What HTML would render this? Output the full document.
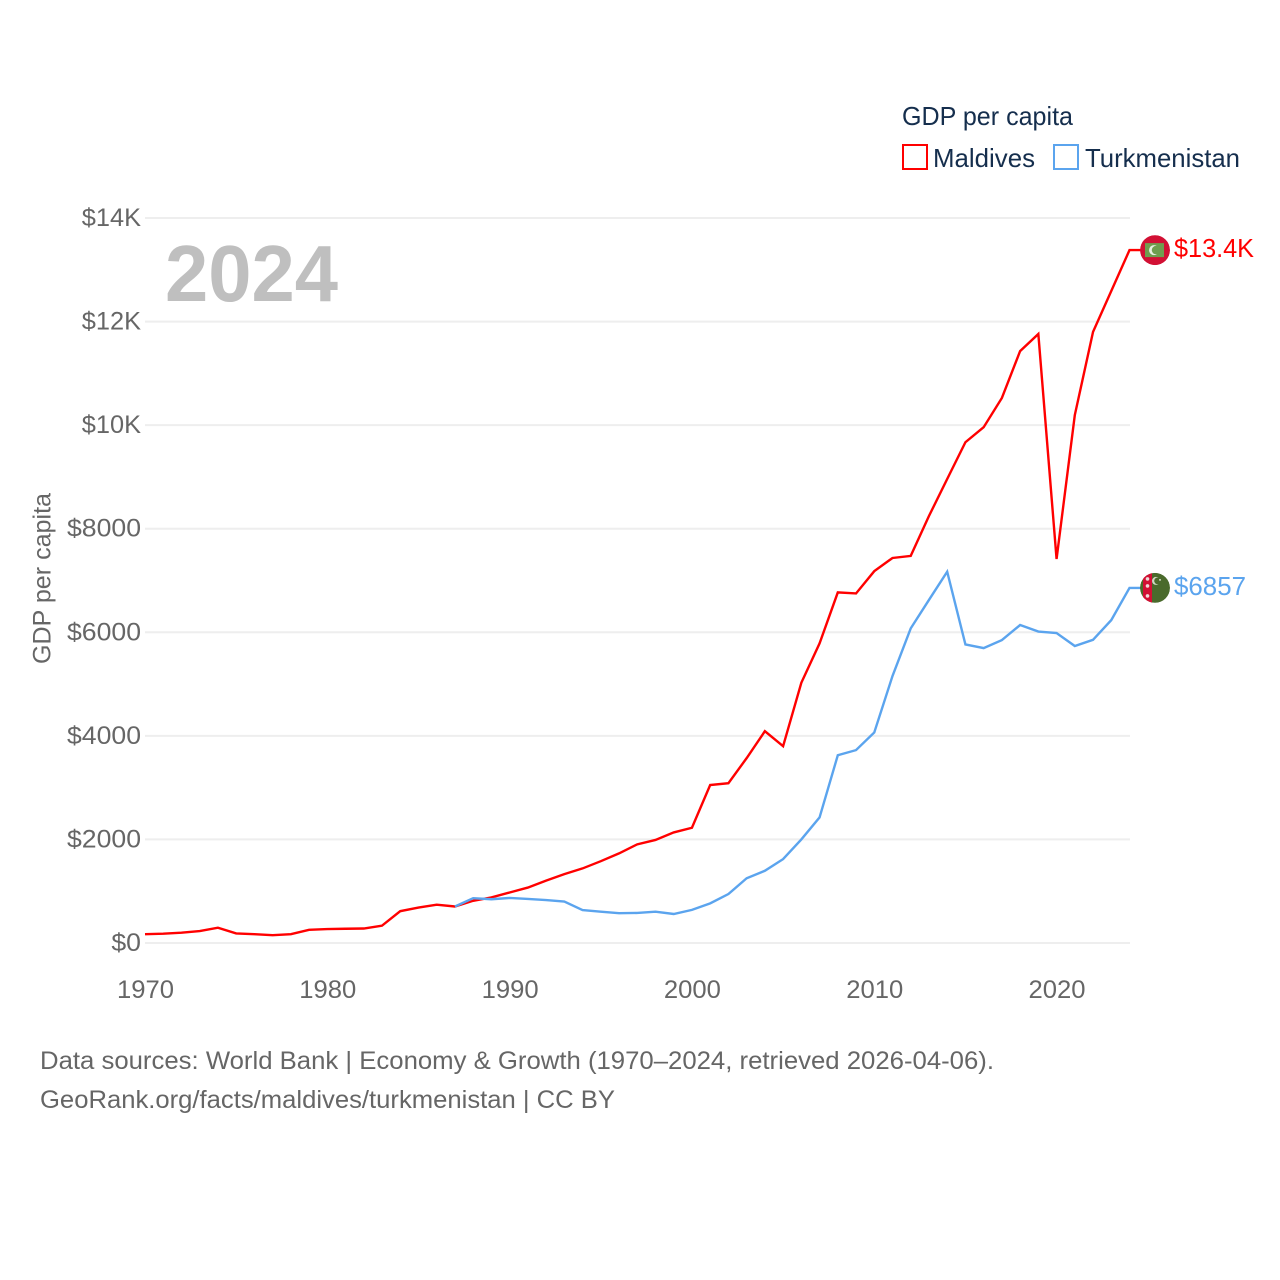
<!DOCTYPE html>
<html lang="en">
<head>
<meta charset="utf-8">
<title>GDP per capita: Maldives and Turkmenistan</title>
<style>
html,body{margin:0;padding:0;background:#fff;width:1280px;height:1280px;overflow:hidden}
svg{display:block;font-family:"Liberation Sans",Arial,sans-serif}
</style>
</head>
<body>
<svg id="chart" width="1280" height="1280" viewBox="0 0 1280 1280" xmlns="http://www.w3.org/2000/svg">
  <defs>
    <clipPath id="flag-clip"><circle cx="0" cy="0" r="15"/></clipPath>
  </defs>
  <g id="grid"></g>
  <g id="y-axis"></g>
  <g id="x-axis"></g>
  <text x="165" y="301" font-size="80" font-weight="700" fill="#bfbfbf" textLength="173" lengthAdjust="spacingAndGlyphs">2024</text>
  <g id="series"></g>

  <g id="flag-maldives" clip-path="url(#flag-clip)">
    <circle r="15" fill="#d21034"/>
    <rect x="-10" y="-7" width="19" height="14" fill="#6f9e4f"/>
    <circle cx="-1" cy="0" r="5" fill="#e6efe0"/>
    <circle cx="1" cy="0" r="4.2" fill="#6f9e4f"/>
  </g>
  <g id="flag-turkmenistan" clip-path="url(#flag-clip)">
    <circle r="15" fill="#4a6a2c"/>
    <rect x="-12" y="-15" width="9" height="30" fill="#d21034"/>
    <circle cx="-7.5" cy="-9" r="1.8" fill="#f0d8d8"/>
    <circle cx="-7.5" cy="-2" r="1.8" fill="#f0d8d8"/>
    <circle cx="-7.5" cy="8" r="1.8" fill="#f0d8d8"/>
    <circle cx="1" cy="-7" r="4" fill="#cfd8c4"/>
    <circle cx="2.6" cy="-7" r="3.4" fill="#4a6a2c"/>
    <circle cx="5" cy="-8" r="1" fill="#cfd8c4"/>
  </g>
  <text id="value-maldives" x="1174" font-size="26" fill="#ff0000" textLength="80" lengthAdjust="spacingAndGlyphs"></text>
  <text id="value-turkmenistan" x="1174" font-size="26" fill="#5ba4ee" textLength="72" lengthAdjust="spacingAndGlyphs"></text>

  <text transform="translate(50.5 578.5) rotate(-90)" text-anchor="middle" font-size="25" fill="#666666" textLength="171" lengthAdjust="spacingAndGlyphs">GDP per capita</text>

  <g>
    <text x="902" y="125" font-size="26" fill="#152e4d" textLength="171" lengthAdjust="spacingAndGlyphs">GDP per capita</text>
    <g>
      <rect x="903" y="145" width="24" height="24" fill="none" stroke="#ff0000" stroke-width="2"/>
      <text x="933" y="167" font-size="26" fill="#152e4d" textLength="102" lengthAdjust="spacingAndGlyphs">Maldives</text>
    </g>
    <g>
      <rect x="1054" y="145" width="24" height="24" fill="none" stroke="#5ba4ee" stroke-width="2"/>
      <text x="1085" y="167" font-size="26" fill="#152e4d" textLength="155" lengthAdjust="spacingAndGlyphs">Turkmenistan</text>
    </g>
  </g>

  <g>
    <text x="40" y="1069" font-size="25" fill="#666666" textLength="954" lengthAdjust="spacingAndGlyphs">Data sources: World Bank | Economy &amp; Growth (1970–2024, retrieved 2026-04-06).</text>
    <text x="40" y="1108" font-size="25" fill="#666666" textLength="575" lengthAdjust="spacingAndGlyphs">GeoRank.org/facts/maldives/turkmenistan | CC BY</text>
  </g>
</svg>
<script>
const years = [1970,1971,1972,1973,1974,1975,1976,1977,1978,1979,1980,1981,1982,1983,1984,1985,1986,1987,1988,1989,1990,1991,1992,1993,1994,1995,1996,1997,1998,1999,2000,2001,2002,2003,2004,2005,2006,2007,2008,2009,2010,2011,2012,2013,2014,2015,2016,2017,2018,2019,2020,2021,2022,2023,2024];
const maldivesValues = [170,180,200,230,295,185,170,150,170,255,270,275,280,335,615,685,740,705,815,880,975,1070,1205,1330,1440,1580,1730,1905,1990,2135,2225,3050,3085,3570,4090,3800,5025,5785,6770,6750,7180,7435,7475,8245,8960,9670,9960,10525,11430,11760,7415,10195,11800,12590,13380];
const turkmenistanYears = [1987,1988,1989,1990,1991,1992,1993,1994,1995,1996,1997,1998,1999,2000,2001,2002,2003,2004,2005,2006,2007,2008,2009,2010,2011,2012,2013,2014,2015,2016,2017,2018,2019,2020,2021,2022,2023,2024];
const turkmenistanValues = [705,865,845,870,850,830,800,635,605,575,580,605,560,640,765,945,1250,1395,1620,2000,2425,3625,3725,4065,5155,6075,6625,7170,5765,5695,5850,6140,6015,5985,5735,5855,6235,6857];
const yTicks = [0,2000,4000,6000,8000,10000,12000,14000];
const yTickLabels = ["$0","$2000","$4000","$6000","$8000","$10K","$12K","$14K"];
const xTicks = [1970,1980,1990,2000,2010,2020];

const SVG_NS = "http://www.w3.org/2000/svg";
const plot = {left:145, right:1129.5, top:218, bottom:943};
const xDomain = [1970,2024];
const yDomain = [0,14000];
function xScale(v){ return plot.left + (v-xDomain[0])/(xDomain[1]-xDomain[0])*(plot.right-plot.left); }
function yScale(v){ return plot.bottom - (v-yDomain[0])/(yDomain[1]-yDomain[0])*(plot.bottom-plot.top); }
function make(tag,parent,attrs){
  const el = document.createElementNS(SVG_NS,tag);
  for(const k in attrs){ el.setAttribute(k,attrs[k]); }
  parent.appendChild(el);
  return el;
}
function formatValue(v){
  return v >= 10000 ? "$" + (v/1000).toFixed(1) + "K" : "$" + Math.round(v);
}

const gridG = document.getElementById("grid");
const yAxisG = document.getElementById("y-axis");
const xAxisG = document.getElementById("x-axis");
const seriesG = document.getElementById("series");

yTicks.forEach(function(t,i){
  const y = yScale(t);
  const line = make("line",gridG,{x1:plot.left,x2:plot.right+0.5,y1:y,y2:y,stroke:"#eeeeee","stroke-width":2});
  
  
  const label = yTickLabels[i];
  const txt = make("text",yAxisG,{x:141,y:y+8,"text-anchor":"end","font-size":25,fill:"#666666",textLength:label.length*14.8,lengthAdjust:"spacingAndGlyphs"});
  txt.textContent = label;
  
  
});

xTicks.forEach(function(t){
  const txt = make("text",xAxisG,{x:xScale(t)+0.5,y:998,"text-anchor":"middle","font-size":25,fill:"#666666",textLength:57,lengthAdjust:"spacingAndGlyphs"});
  txt.textContent = String(t);
  
  
});

function drawSeries(xs,vals,color){
  let d = "";
  xs.forEach(function(x,i){
    d += (i ? "L" : "M") + xScale(x).toFixed(2) + " " + yScale(vals[i]).toFixed(2);
  });
  const lastY = yScale(vals[vals.length-1]);
  d += "L" + (xScale(xs[xs.length-1])+25) + " " + lastY.toFixed(2);
  return make("path",seriesG,{d:d,fill:"none",stroke:color,"stroke-width":2.4,"stroke-linejoin":"miter","stroke-miterlimit":4});
}

const maldivesLine = drawSeries(years,maldivesValues,"#ff0000");


const turkmenistanLine = drawSeries(turkmenistanYears,turkmenistanValues,"#5ba4ee");



function placeEnd(flagId,labelId,xs,vals){
  const lastV = vals[vals.length-1];
  const fx = xScale(xs[xs.length-1])+25.5;
  const fy = yScale(lastV);
  document.getElementById(flagId).setAttribute("transform","translate("+fx+" "+fy+")");
  const label = document.getElementById(labelId);
  label.setAttribute("y",fy+7);
  label.textContent = formatValue(lastV);
}
placeEnd("flag-maldives","value-maldives",years,maldivesValues);
placeEnd("flag-turkmenistan","value-turkmenistan",turkmenistanYears,turkmenistanValues);
</script>
</body>
</html>
